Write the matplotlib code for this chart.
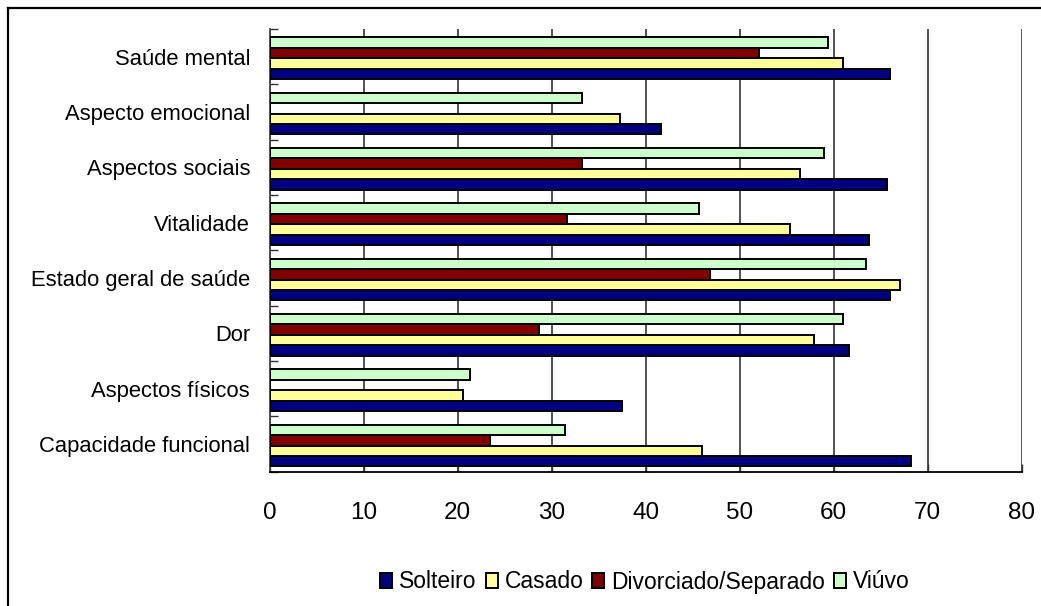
import matplotlib
matplotlib.use("Agg")
import matplotlib.pyplot as plt
import numpy as np
from matplotlib.lines import Line2D

categories = [
    "Capacidade funcional",
    "Aspectos físicos",
    "Dor",
    "Estado geral de saúde",
    "Vitalidade",
    "Aspectos sociais",
    "Aspecto emocional",
    "Saúde mental",
]

series_names = ["Solteiro", "Casado", "Divorciado/Separado", "Viúvo"]

solteiro = [68.2, 37.5, 61.6, 66.0, 63.8, 65.7, 41.6, 66.0]
casado = [46.0, 20.6, 57.9, 67.1, 55.4, 56.4, 37.3, 61.0]
divorciado = [23.4, 0.0, 28.7, 46.8, 31.6, 33.2, 0.0, 52.1]
viuvo = [31.4, 21.3, 61.0, 63.4, 45.7, 59.0, 33.2, 59.4]

x_ticks = [0, 10, 20, 30, 40, 50, 60, 70, 80]

colors = ["#000080", "#FFFF99", "#800000", "#CCFFCC"]

W, H = 1041, 606
fig = plt.figure(figsize=(W / 100, H / 100), dpi=100)
fig.patch.set_facecolor("white")

left, right, top, bottom = 269.5, 1021.7, 29.0, 471.7
ax = fig.add_axes([left / W, (H - bottom) / H, (right - left) / W, (bottom - top) / H])

font = ["Liberation Sans", "DejaVu Sans"]

y = np.arange(len(categories))
bh = 0.188
shift = -0.027
all_series = [solteiro, casado, divorciado, viuvo]
for i, (vals, name, col) in enumerate(zip(all_series, series_names, colors)):
    offs = (i - 1.5) * bh + shift
    ax.barh(y + offs, vals, height=bh, color=col, edgecolor="black",
            linewidth=1.4, label=name, zorder=3)

ax.set_xlim(0, 80)
ax.set_ylim(-0.5, len(categories) - 0.5)
ax.set_xticks(x_ticks)
ax.set_xticklabels([str(t) for t in x_ticks], fontfamily=font, fontsize=17.5)
ax.set_yticks(y)
ax.set_yticklabels(categories, fontfamily=font, fontsize=15.8)

# category boundary ticks on the value axis
ax.set_yticks(np.arange(len(categories) + 1) - 0.5, minor=True)
ax.tick_params(axis="y", which="major", length=0, pad=14)
ax.tick_params(axis="y", which="minor", length=6, direction="in", width=1, color="#333333")
ax.tick_params(axis="x", which="major", length=6, direction="in", width=1, pad=22,
               color="#333333")

ax.xaxis.grid(True, color="#222222", linewidth=1.1, zorder=0)
ax.set_axisbelow(True)
for s in ["top", "right"]:
    ax.spines[s].set_visible(False)
ax.spines["left"].set_color("#444444")
ax.spines["left"].set_linewidth(1.3)
ax.spines["bottom"].set_color("#000000")
ax.spines["bottom"].set_linewidth(1.3)

leg = fig.legend(loc="center", bbox_to_anchor=(645 / W, 1 - 582 / H), ncol=4,
                 frameon=False, prop={"family": font, "size": 16.5},
                 handlelength=0.52, handleheight=0.62, handletextpad=0.3,
                 columnspacing=0.4, borderpad=0, borderaxespad=0)

# chart-area border
fig.add_artist(Line2D([8 / W, 1.0], [1 - 8 / H, 1 - 8 / H], transform=fig.transFigure,
                      color="black", linewidth=1.6))
fig.add_artist(Line2D([8 / W, 8 / W], [0.0, 1 - 8 / H], transform=fig.transFigure,
                      color="black", linewidth=1.6))

fig.savefig("out.png", dpi=100, facecolor="white")
